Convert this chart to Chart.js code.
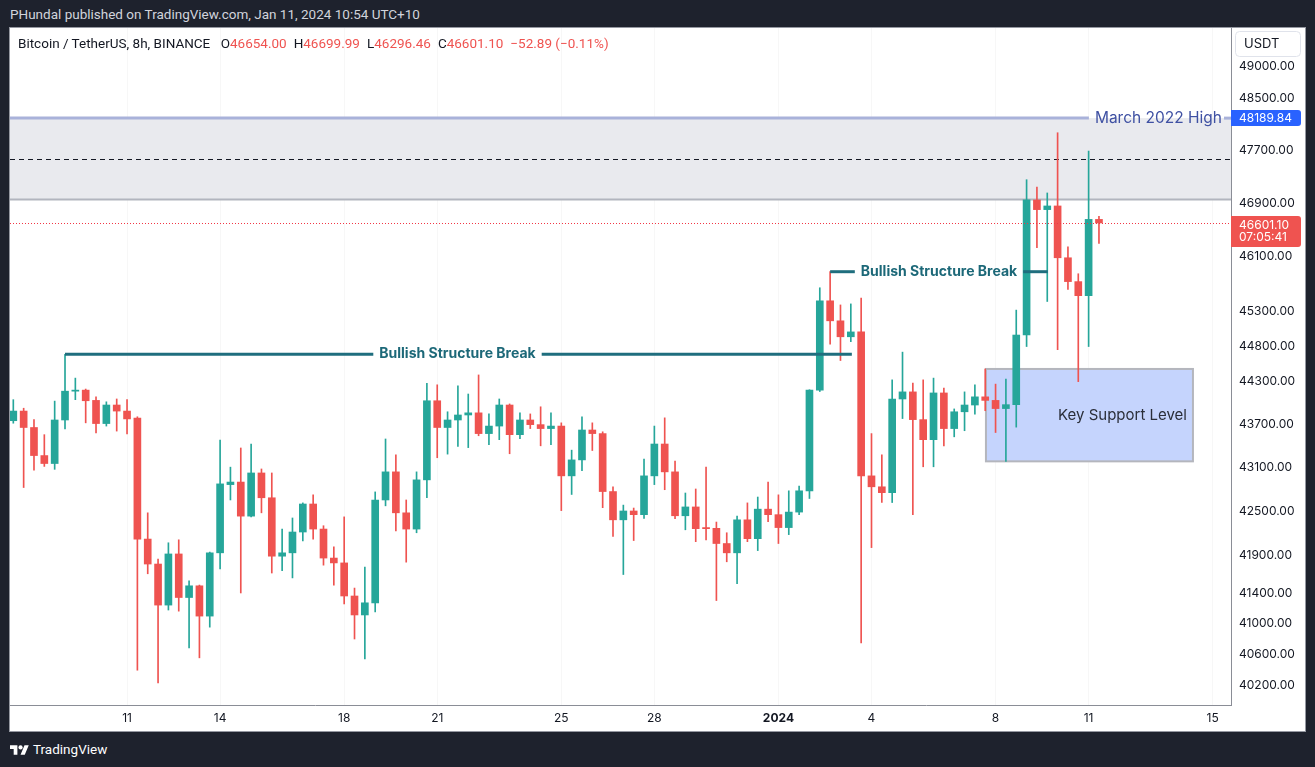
<!DOCTYPE html>
<html>
<head>
<meta charset="utf-8">
<script src="https://cdn.jsdelivr.net/npm/chart.js@4.4.1/dist/chart.umd.min.js"></script>
<style>
  body { margin:0; background:#1e222d; width:1315px; height:767px; overflow:hidden; font-family: Roboto, Inter, sans-serif; }
  #pub { position:absolute; left:10px; top:6px; font-size:13.5px; line-height:16px; color:#d1d4dc; }
  #frame { position:absolute; left:9px; top:27px; width:1297px; height:705px; background:#fff; border:1px solid #9598a1; box-sizing:border-box; }
  #c { position:absolute; left:10px; top:28px; }
  #legend { position:absolute; left:18px; top:35px; font-size:13.5px; line-height:16px; color:#131722; white-space:pre; }
  #legend span { margin-left:7px; }
  #legend b { font-weight:normal; color:#ef5350; }
  #brand { position:absolute; left:10px; top:741px; color:#fff; font-size:13.5px; line-height:16px; }
  #brand svg { position:absolute; left:0; top:2px; }
  #brand span { position:absolute; left:23px; top:0; white-space:nowrap; }
</style>
</head>
<body>
<div id="pub">PHundal published on TradingView.com, Jan 11, 2024 10:54 UTC+10</div>
<div id="frame"></div>
<canvas id="c" width="1295" height="702"></canvas>
<div id="legend">Bitcoin / TetherUS, 8h, BINANCE <span>O<b>46654.00</b></span><span>H<b>46699.99</b></span><span>L<b>46296.46</b></span><span>C<b>46601.10</b></span><span><b>−52.89 (−0.11%)</b></span></div>
<div id="brand">
  <svg width="19" height="12" viewBox="0 0 36 22"><path fill="#fff" d="M14 22H7V11H0V4h14v18zM28 22h-8l7.5-18h8L28 22z"/><circle fill="#fff" cx="20" cy="8" r="4"/></svg>
  <span>TradingView</span>
</div>
<script>
// BTCUSDT 8h candles, Dec 7 2023 -> Jan 11 2024
var open = [43745, 43880, 43650, 43260, 43150, 43755, 44160, 44175, 44030, 43705,
  43965, 43880, 43780, 42120, 41785, 41240, 41920, 41340, 41495, 41095,
  41935, 42860, 42895, 42430, 43020, 42680, 41890, 41935, 42215, 42595,
  42255, 41865, 41800, 41360, 41110, 41270, 42650, 43035, 42475, 42255,
  42925, 44025, 43650, 43755, 43825, 43855, 43565, 43670, 43965, 43550,
  43755, 43690, 43635, 43670, 42980, 43200, 43615, 43565, 42765, 42380,
  42500, 42450, 42980, 43420, 43035, 42435, 42555, 42275, 42265, 42060,
  41935, 42380, 42125, 42525, 42450, 42275, 42485, 42775, 44175, 45455,
  45165, 44935, 45005, 42980, 42830, 42750, 44050, 44150, 43760, 43480,
  44135, 43635, 43870, 43965, 44080, 44030, 43915, 43970, 44960, 46945,
  46800, 46855, 46085, 45735, 45530, 46654];
var high = [44040, 43920, 43760, 43550, 44020, 44685, 44345, 44190, 44080, 44010,
  44050, 44040, 43800, 42475, 41850, 42070, 42110, 41560, 41505, 41945,
  43475, 43100, 43365, 43420, 43075, 43020, 42255, 42405, 42610, 42720,
  42300, 42015, 42420, 41465, 41745, 42760, 43490, 43270, 42650, 43035,
  44270, 44250, 43870, 44235, 44120, 44390, 43840, 44050, 43980, 43855,
  43840, 43940, 43855, 43715, 43335, 43800, 43715, 43590, 42830, 42580,
  42540, 43210, 43670, 43785, 43185, 42745, 42800, 43100, 42350, 42205,
  42430, 42610, 42690, 42895, 42720, 42775, 42840, 44180, 45645, 45880,
  45395, 45410, 45495, 43565, 43270, 44320, 44715, 44275, 44320, 44345,
  44205, 43910, 44150, 44250, 44475, 44260, 44330, 45320, 47250, 47140,
  47050, 47965, 46245, 45850, 47685, 46699.99];
var low = [43710, 42820, 43060, 43110, 43070, 43630, 44040, 43715, 43575, 43670,
  43600, 43560, 40390, 41655, 40225, 41175, 41160, 40680, 40550, 40950,
  41720, 42650, 41400, 42420, 42475, 41665, 41695, 41600, 42095, 42120,
  41770, 41505, 41255, 40795, 40535, 41150, 42570, 42230, 41810, 42205,
  42680, 43230, 43280, 43385, 43370, 43535, 43410, 43480, 43285, 43495,
  43635, 43395, 43410, 42505, 42725, 43050, 43330, 42545, 42155, 41645,
  42100, 42400, 42860, 42790, 42395, 42245, 42085, 42110, 41300, 41815,
  41525, 42085, 41965, 42355, 42060, 42180, 42450, 42670, 44155, 44830,
  44595, 44865, 40745, 42005, 42615, 42615, 43775, 42450, 43105, 43105,
  43395, 43520, 43605, 43835, 43885, 43580, 43180, 43655, 44795, 46235,
  45445, 44750, 45620, 44295, 44795, 46296.46];
var close = [43880, 43650, 43260, 43150, 43755, 44160, 44175, 44025, 43705, 43965,
  43880, 43770, 42120, 41785, 41240, 41920, 41340, 41495, 41095, 41935,
  42870, 42895, 42430, 43020, 42680, 41890, 41935, 42215, 42595, 42255,
  41865, 41800, 41360, 41110, 41270, 42650, 43035, 42475, 42255, 42925,
  44025, 43650, 43755, 43825, 43855, 43565, 43670, 43965, 43550, 43755,
  43690, 43635, 43670, 42980, 43200, 43615, 43565, 42765, 42380, 42500,
  42450, 42980, 43420, 43035, 42435, 42555, 42260, 42260, 42060, 41935,
  42380, 42125, 42525, 42450, 42275, 42485, 42775, 44175, 45455, 45165,
  44935, 45005, 42980, 42830, 42750, 44050, 44150, 43760, 43480, 44135,
  43635, 43870, 43965, 44080, 44030, 43915, 43970, 44960, 46945, 46800,
  46855, 46085, 45735, 45530, 46654, 46601.10];

// day labels sit on the first 8h bar of the day
var tickPos = [11, 20, 32, 41, 53, 62, 74, 83, 95, 104, 116];
var tickText = ['11', '14', '18', '21', '25', '28', '2024', '4', '8', '11', '15'];
var priceTicks = [40200, 40600, 41000, 41400, 41900, 42500, 43100, 43700, 44300, 44800, 45300, 46100, 46900, 47700, 48500, 49000];

// drawings
var marchHigh = 48189.84;
var zoneLow = 46950;
var dashedLevel = 47565;
var lastPrice = 46601.10;
var supportTop = 44475, supportBottom = 43180, supportFrom = 94.07, supportTo = 114.09;
var breakFrom = [5, 79], breakTo = [81.1, 100.05], breakPrice = [44685, 45880], breakTextAt = [42.96, 89.53];

var upColor = '#26a69a';
var downColor = '#ef5350';
var colors = close.map(function (c, i) { return c >= open[i] ? upColor : downColor; });

var wicks = low.map(function (l, i) { return { x: i, y: [l, high[i]] }; });
var bodies = open.map(function (o, i) { return { x: i, y: [o, close[i]] }; });

function hline(ctx, x1, x2, y) {
  ctx.beginPath();
  ctx.moveTo(x1, y);
  ctx.lineTo(x2, y);
  ctx.stroke();
}

var drawings = {
  id: 'drawings',
  beforeDatasetsDraw: function (chart) {
    var ctx = chart.ctx, a = chart.chartArea, xs = chart.scales.x, ys = chart.scales.y;
    ctx.save();
    // grey zone under March 2022 high
    var zt = ys.getPixelForValue(marchHigh), zb = ys.getPixelForValue(zoneLow);
    ctx.fillStyle = '#e9eaee';
    ctx.fillRect(a.left, zt, a.right - a.left, zb - zt);
    ctx.strokeStyle = '#b2b5be';
    ctx.lineWidth = 2;
    hline(ctx, a.left, a.right, zb);
    // dashed level
    ctx.strokeStyle = '#131722';
    ctx.lineWidth = 1;
    ctx.setLineDash([5, 4]);
    hline(ctx, a.left, a.right, Math.round(ys.getPixelForValue(dashedLevel)) + 0.5);
    ctx.setLineDash([]);
    // key support box
    var bx1 = xs.getPixelForValue(supportFrom), bx2 = xs.getPixelForValue(supportTo);
    var by1 = ys.getPixelForValue(supportTop), by2 = ys.getPixelForValue(supportBottom);
    ctx.fillStyle = '#c5d4fd';
    ctx.fillRect(bx1, by1, bx2 - bx1, by2 - by1);
    ctx.strokeStyle = '#b4b6bd';
    ctx.lineWidth = 2;
    ctx.strokeRect(bx1, by1, bx2 - bx1, by2 - by1);
    ctx.restore();
  },
  afterDatasetsDraw: function (chart) {
    var ctx = chart.ctx, a = chart.chartArea, xs = chart.scales.x, ys = chart.scales.y;
    ctx.save();
    ctx.textBaseline = 'middle';

    // March 2022 high line + label
    var my = ys.getPixelForValue(marchHigh);
    ctx.font = '15.5px Inter';
    var label = 'March 2022 High';
    var tw = ctx.measureText(label).width;
    var tx = a.right - 9 - tw;
    ctx.strokeStyle = '#a9b2da';
    ctx.lineWidth = 3;
    hline(ctx, a.left, tx - 6, my);
    hline(ctx, a.right - 7, a.right, my);
    ctx.fillStyle = '#3f51a3';
    ctx.textAlign = 'left';
    ctx.fillText(label, tx, my);

    // structure breaks
    ctx.font = 'bold 14px Inter';
    for (var i = 0; i < breakFrom.length; i++) {
      var y = ys.getPixelForValue(breakPrice[i]);
      var cx = xs.getPixelForValue(breakTextAt[i]);
      var w = ctx.measureText('Bullish Structure Break').width;
      ctx.strokeStyle = '#1f6e7e';
      ctx.lineWidth = 3;
      hline(ctx, xs.getPixelForValue(breakFrom[i]), cx - w / 2 - 6, y);
      hline(ctx, cx + w / 2 + 6, xs.getPixelForValue(breakTo[i]), y);
      ctx.fillStyle = '#1c6878';
      ctx.textAlign = 'center';
      ctx.fillText('Bullish Structure Break', cx, y);
    }

    // key support text
    ctx.font = '15px Inter';
    ctx.fillStyle = '#2a2e39';
    ctx.textAlign = 'right';
    ctx.fillText('Key Support Level', xs.getPixelForValue(supportTo) - 6,
      (ys.getPixelForValue(supportTop) + ys.getPixelForValue(supportBottom)) / 2);

    // last price dotted line, red dots every 3px
    var ly = Math.round(ys.getPixelForValue(lastPrice));
    ctx.fillStyle = '#f23645';
    for (var dx = Math.round(a.left); dx < a.right; dx += 3) {
      ctx.fillRect(dx, ly, 1, 1);
    }
    ctx.restore();
  },
  afterDraw: function (chart) {
    var ctx = chart.ctx, a = chart.chartArea, ys = chart.scales.y;
    ctx.save();
    ctx.textBaseline = 'middle';
    ctx.textAlign = 'left';
    // currency box
    ctx.fillStyle = '#fff';
    ctx.strokeStyle = '#e0e3eb';
    ctx.lineWidth = 1;
    ctx.beginPath();
    ctx.roundRect(1225.5, 3.5, 65, 25, 4);
    ctx.fill();
    ctx.stroke();
    ctx.fillStyle = '#131722';
    ctx.font = '13px Inter';
    ctx.fillText('USDT', 1234, 16.5);

    ctx.font = '12px Inter';
    // March high price tag
    var my = ys.getPixelForValue(marchHigh);
    ctx.fillStyle = '#2962ff';
    ctx.beginPath();
    ctx.roundRect(a.right, my - 8, 70, 16, [0, 3, 3, 0]);
    ctx.fill();
    ctx.fillStyle = '#fff';
    ctx.fillText('48189.84', 1229, my + 0.5);
    // last price tag
    var ly = ys.getPixelForValue(lastPrice);
    ctx.fillStyle = '#ef5350';
    ctx.beginPath();
    ctx.roundRect(a.right, ly - 7, 70, 31, [0, 3, 3, 0]);
    ctx.fill();
    ctx.fillStyle = '#fff';
    ctx.fillText('46601.10', 1229, ly + 2);
    ctx.fillText('07:05:41', 1229, ly + 14);
    ctx.restore();
  }
};

var ctx = document.getElementById('c').getContext('2d');
var myChart = new Chart(ctx, {
  type: 'bar',
  data: {
    datasets: [{
      label: 'wick',
      data: wicks,
      backgroundColor: colors,
      barThickness: 1,
      grouped: false
    }, {
      label: 'body',
      data: bodies,
      backgroundColor: colors,
      barThickness: 7,
      minBarLength: 1,
      grouped: false
    }]
  },
  options: {
    responsive: false,
    animation: false,
    layout: { padding: 0 },
    plugins: { legend: { display: false }, tooltip: { enabled: false } },
    scales: {
      x: {
        type: 'linear',
        min: -0.32,
        max: 117.77,
        offset: false,
        grid: { offset: false, color: 'rgba(42,46,57,0.04)', drawTicks: false },
        border: { color: '#8a8d96' },
        afterBuildTicks: function (s) { s.ticks = tickPos.map(function (v) { return { value: v }; }); },
        afterFit: function (s) { s.height = 25; s.paddingLeft = 0; s.paddingRight = 0; },
        ticks: {
          autoSkip: false,
          maxRotation: 0,
          padding: 6,
          color: '#131722',
          font: function (c) {
            return { family: 'Inter', size: 12, weight: (c.tick && c.tick.value === 74) ? 'bold' : 'normal' };
          },
          callback: function (v) { return tickText[tickPos.indexOf(v)]; }
        }
      },
      y: {
        type: 'logarithmic',
        position: 'right',
        min: 39943,
        max: 49599,
        grid: { display: false, drawTicks: false },
        border: { color: '#8a8d96' },
        afterBuildTicks: function (s) { s.ticks = priceTicks.map(function (v) { return { value: v }; }); },
        afterFit: function (s) { s.width = 74; s.paddingTop = 0; s.paddingBottom = 0; },
        ticks: {
          autoSkip: false,
          padding: 8,
          color: '#131722',
          font: { family: 'Inter', size: 12 },
          callback: function (v) { return Number(v).toFixed(2); }
        }
      }
    }
  },
  plugins: [drawings]
});
</script>
</body>
</html>
